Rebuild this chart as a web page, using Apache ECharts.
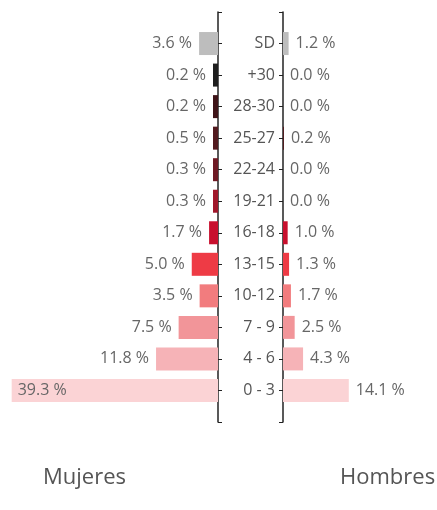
<!DOCTYPE html>
<html>
<head>
<meta charset="utf-8">
<script src="https://cdn.jsdelivr.net/npm/echarts@6/dist/echarts.min.js"></script>
<style>
  html, body { margin: 0; padding: 0; background: #fff; }
  #chart { width: 437px; height: 510px; }
</style>
</head>
<body>
<div id="chart"></div>
<script>
// age groups, bottom to top (empty ends pad the axis line)
const ageGroups = ['', '0 - 3', '4 - 6', '7 - 9', '10-12', '13-15', '16-18', '19-21', '22-24', '25-27', '28-30', '+30', 'SD', ''];
const mujeres = [null, 39.3, 11.8, 7.5, 3.5, 5.0, 1.7, 0.3, 0.3, 0.5, 0.2, 0.2, 3.6, null];
const hombres = [null, 14.1, 4.3, 2.5, 1.7, 1.3, 1.0, 0.0, 0.0, 0.2, 0.0, 0.0, 1.2, null];

const barColors = ['#fff', '#fbd3d5', '#f6b3b7', '#f29599', '#f27c7e', '#ee3b45', '#c8102e',
  '#a0182b', '#6e1a24', '#521a1f', '#3e1418', '#1e1e1e', '#bdbdbd', '#fff'];

const chart = echarts.init(document.getElementById('chart'));
const font = 'Open Sans';
const labelColor = '#666';
const leftMax = 40;
const rightMax = 30;

function pct(p) {
  return p.value.toFixed(1) + ' %';
}

const option = {
  animation: false,
  textStyle: { fontFamily: font },
  title: [
    { text: 'Mujeres', left: 38, top: 462, textStyle: { fontFamily: font, fontSize: 22, fontWeight: 'normal', color: '#555' } },
    { text: 'Hombres', left: 335, top: 462, textStyle: { fontFamily: font, fontSize: 22, fontWeight: 'normal', color: '#555' } }
  ],
  grid: [
    { left: 8, right: 219, top: 12, bottom: 88 },
    { left: 283, right: 14, top: 12, bottom: 88 }
  ],
  xAxis: [
    { type: 'value', gridIndex: 0, inverse: true, min: 0, max: leftMax, show: false },
    { type: 'value', gridIndex: 1, min: 0, max: rightMax, show: false }
  ],
  yAxis: [
    {
      type: 'category', gridIndex: 0, position: 'right', data: ageGroups, boundaryGap: false,
      axisLine: { lineStyle: { color: '#222', width: 1.5 } },
      axisTick: { length: 4, lineStyle: { color: '#222' } },
      axisLabel: { show: false }
    },
    {
      type: 'category', gridIndex: 1, position: 'left', data: ageGroups, boundaryGap: false,
      axisLine: { lineStyle: { color: '#222', width: 1.5 } },
      axisTick: { length: 4, lineStyle: { color: '#222' } },
      axisLabel: { color: '#555', fontSize: 16, fontFamily: font, margin: 8 }
    }
  ],
  series: [
    {
      name: 'Mujeres',
      type: 'bar',
      xAxisIndex: 0,
      yAxisIndex: 0,
      barWidth: 23,
      barMinHeight: 5,
      data: mujeres.map((v, i) => v == null ? null : {
        value: v,
        itemStyle: { color: barColors[i] },
        label: v > leftMax * 0.8 ? { position: 'insideLeft', distance: 6 } : undefined
      }),
      label: {
        show: true, position: 'left', distance: 7,
        color: labelColor, fontSize: 16, fontFamily: font,
        formatter: pct
      }
    },
    {
      name: 'Hombres',
      type: 'bar',
      xAxisIndex: 1,
      yAxisIndex: 1,
      barWidth: 23,
      data: hombres.map((v, i) => v == null ? null : {
        value: v,
        itemStyle: { color: barColors[i] }
      }),
      label: {
        show: true, position: 'right', distance: 7,
        color: labelColor, fontSize: 16, fontFamily: font,
        formatter: pct
      }
    }
  ]
};

chart.setOption(option);
</script>
</body>
</html>
